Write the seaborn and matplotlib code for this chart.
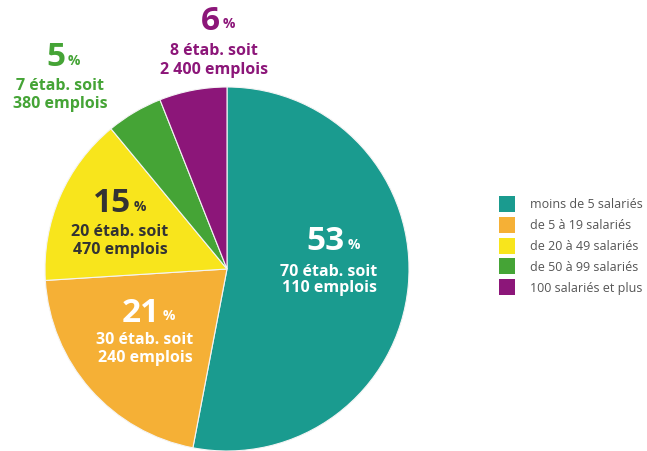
import matplotlib
matplotlib.use("Agg")
import matplotlib.pyplot as plt
import seaborn as sns
from matplotlib.patches import Rectangle

# Data
categories = ["moins de 5 salariés", "de 5 à 19 salariés", "de 20 à 49 salariés",
              "de 50 à 99 salariés", "100 salariés et plus"]
shares = [53, 21, 15, 5, 6]
etabs = [70, 30, 20, 7, 8]
emplois = ["110", "240", "470", "380", "2 400"]

colors = ["#1a9b8f", "#f5b036", "#f8e51c", "#45a436", "#8c1679"]
label_colors = ["white", "white", "#333333", "#45a436", "#8c1679"]
# label anchor (x of number right edge, y of number, x/y of two sub-lines) in pixels
label_pos = [(345, 242, 329, 272, 288),
             (160, 313, 145, 340, 358),
             (131, 204, 120, 232, 250),
             (65, 58, 60, 86, 104),
             (220, 21, 214, 51, 70)]

sns.set_theme(style="white")
plt.rcParams["font.family"] = ["Open Sans", "DejaVu Sans"]

W, H = 647, 452
fig = plt.figure(figsize=(W / 100, H / 100), dpi=100)
ax = fig.add_axes([0, 0, 1, 1])

ax.pie(shares, colors=colors, startangle=90, counterclock=False,
       center=(227, H - 270), radius=182, frame=True,
       wedgeprops=dict(edgecolor="#f4f4f4", linewidth=0.8))
ax.set_xlim(0, W)
ax.set_ylim(0, H)
ax.set_aspect("equal")
ax.axis("off")

for i, (xr, yn, xc, y1, y2) in enumerate(label_pos):
    c = label_colors[i]
    ax.text(xr, H - yn, str(shares[i]), ha="right", va="center", fontsize=24,
            fontweight="bold", color=c)
    ax.text(xr + 3, H - yn - 3, "%", ha="left", va="center", fontsize=10,
            fontweight="bold", color=c)
    ax.text(xc, H - y1, f"{etabs[i]} étab. soit", ha="center", va="center",
            fontsize=11.5, fontweight="bold", color=c)
    ax.text(xc, H - y2, f"{emplois[i]} emplois", ha="center", va="center",
            fontsize=11.5, fontweight="bold", color=c)

# legend
for i, cat in enumerate(categories):
    y = 205 + i * 20.8
    ax.add_patch(Rectangle((499, H - y - 8), 16, 16, color=colors[i], lw=0))
    ax.text(530, H - y, cat, ha="left", va="center", fontsize=9,
            color="#555555")

fig.savefig("out.png", dpi=100)
